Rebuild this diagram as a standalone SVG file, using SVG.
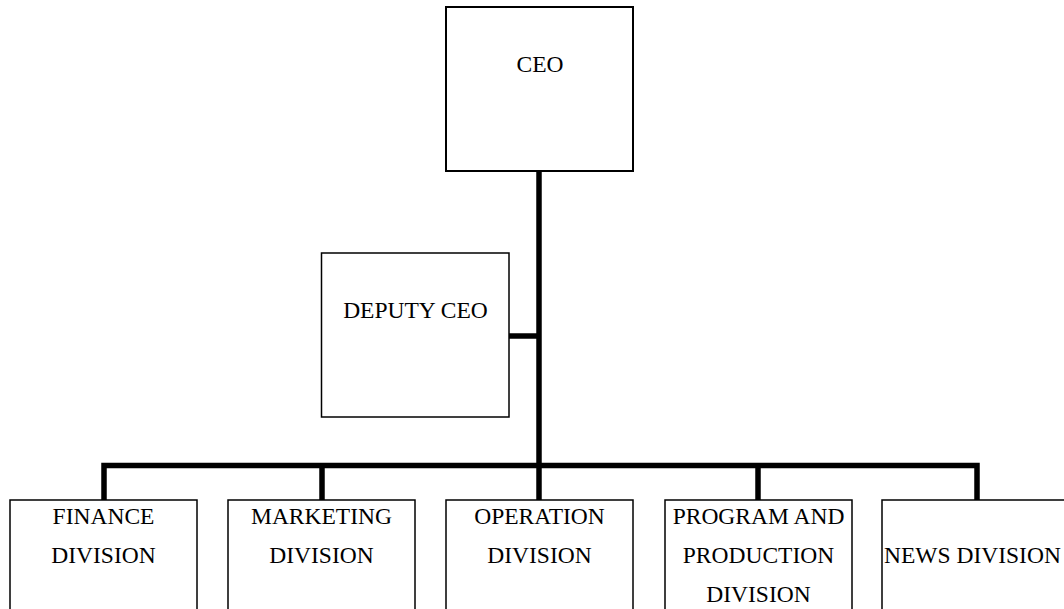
<svg xmlns="http://www.w3.org/2000/svg" width="1064" height="609" viewBox="0 0 1064 609">
<style>
.box{fill:#fff;stroke:#000;stroke-width:1.5}
.ceo{fill:#fff;stroke:#000;stroke-width:2}
.lbl{font-family:"Liberation Serif","Times New Roman",serif;font-size:23.5px;fill:#000;text-anchor:middle}
.conn{fill:none;stroke:#000;stroke-width:5.5;stroke-linecap:butt;stroke-linejoin:miter}
</style>
<rect width="1064" height="609" fill="#fff"/>
<g id="connectors">
<path class="conn" d="M539,171 V465"/>
<path class="conn" d="M509,336 H539"/>
<path class="conn" d="M104,500 V465.5 H977 V500"/>
<path class="conn" d="M322,465 V500"/>
<path class="conn" d="M539,465 V500"/>
<path class="conn" d="M758,465 V500"/>
</g>
<g id="ceo">
<rect class="ceo" x="446" y="7" width="187" height="164"/>
<text class="lbl" x="540" y="72">CEO</text>
</g>
<g id="deputy-ceo">
<rect class="box" x="321.5" y="253" width="187.5" height="164"/>
<text class="lbl" x="415.5" y="318">DEPUTY CEO</text>
</g>
<g id="finance-division">
<rect class="box" x="10" y="500" width="187" height="120"/>
<text class="lbl" x="103.5" y="524">FINANCE</text>
<text class="lbl" x="103.5" y="563">DIVISION</text>
</g>
<g id="marketing-division">
<rect class="box" x="228" y="500" width="187" height="120"/>
<text class="lbl" x="321.5" y="524">MARKETING</text>
<text class="lbl" x="321.5" y="563">DIVISION</text>
</g>
<g id="operation-division">
<rect class="box" x="446" y="500" width="187" height="120"/>
<text class="lbl" x="539.5" y="524">OPERATION</text>
<text class="lbl" x="539.5" y="563">DIVISION</text>
</g>
<g id="program-production-division">
<rect class="box" x="665" y="500" width="187" height="120"/>
<text class="lbl" x="758.5" y="524">PROGRAM AND</text>
<text class="lbl" x="758.5" y="563">PRODUCTION</text>
<text class="lbl" x="758.5" y="602">DIVISION</text>
</g>
<g id="news-division">
<rect class="box" x="882" y="500" width="190" height="120"/>
<text class="lbl" x="884" y="563" style="text-anchor:start">NEWS DIVISION</text>
</g>
</svg>
